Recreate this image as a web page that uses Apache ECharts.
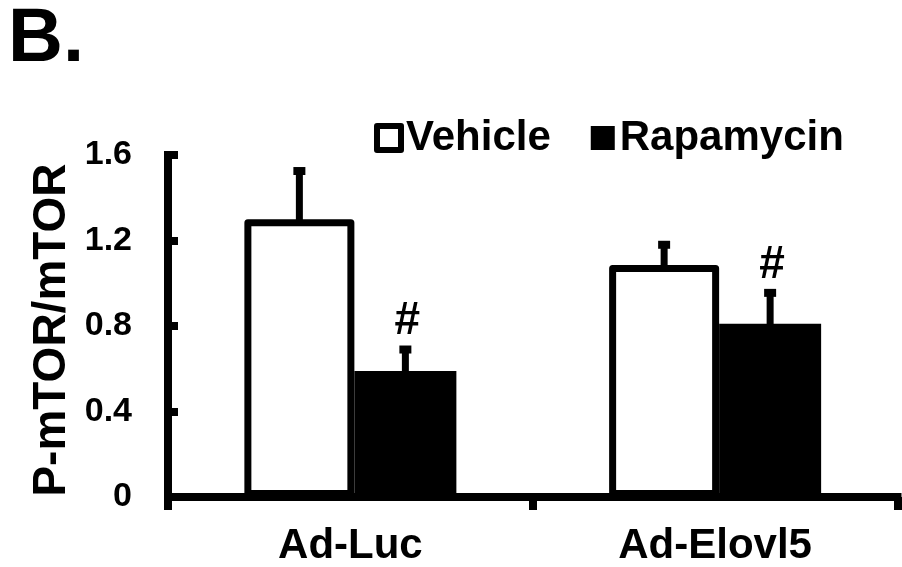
<!DOCTYPE html>
<html>
<head>
<meta charset="utf-8">
<script src="https://cdn.jsdelivr.net/npm/echarts@6/dist/echarts.min.js"></script>
<style>
  html, body { margin: 0; padding: 0; background: #fff; }
  #chart { width: 902px; height: 567px; }
</style>
</head>
<body>
<div id="chart"></div>
<script>
// Phosphorylated / total mTOR ratio, mean with upper error bar
const categories = ['Ad-Luc', 'Ad-Elovl5'];
const seriesNames = ['Vehicle', 'Rapamycin'];
const vehicleMean = [1.30, 1.085];
const vehicleErr = [0.225, 0.095];
const rapamycinMean = [0.59, 0.81];
const rapamycinErr = [0.10, 0.145];
const rapamycinMark = ['#', '#'];
const yMin = 0, yMax = 1.6, yStep = 0.4;

const FONT = 'Liberation Sans, Arial, Helvetica, sans-serif';
const VEH_W = 110;   // outer width of the outlined bar
const RAP_W = 102;
const STROKE = 7;
const GROUP_W = VEH_W + RAP_W;

function errorBars(means, errs, offset, marks) {
  return {
    type: 'custom',
    z: 5,
    silent: true,
    data: means.map((m, i) => [i, m, errs[i]]),
    encode: { x: 0, y: 1 },
    renderItem(params, api) {
      const i = api.value(0), m = api.value(1), e = api.value(2);
      const base = api.coord([i, m]);
      const top = api.coord([i, m + e]);
      const x = base[0] + offset;
      const children = [
        { type: 'line', shape: { x1: x, y1: base[1] + 2, x2: x, y2: top[1] },
          style: { stroke: '#000', lineWidth: STROKE } },
        { type: 'rect', shape: { x: x - 6, y: top[1] - 4, width: 12, height: 8 },
          style: { fill: '#000' } }
      ];
      const mark = marks ? marks[params.dataIndex] : '';
      if (mark) {
        children.push({
          type: 'text',
          style: { text: mark, x: x + 2, y: top[1] - 28, align: 'center', verticalAlign: 'middle',
                   font: 'bold 46px ' + FONT, fill: '#000' }
        });
      }
      return { type: 'group', children };
    }
  };
}

const chart = echarts.init(document.getElementById('chart'), null, { renderer: 'canvas' });
chart.setOption({
  animation: false,
  backgroundColor: '#fff',
  textStyle: { fontFamily: FONT },
  graphic: [{
    type: 'text',
    x: 8, y: 40,
    style: { text: 'B.', x: 0, y: 0, align: 'left', verticalAlign: 'middle', font: 'bold 76px ' + FONT, fill: '#000' }
  }],
  legend: {
    left: 374, top: 117, padding: 0,
    itemWidth: 24, itemHeight: 24,
    itemGap: 40, itemTextGap: 8,
    icon: 'rect',
    textStyle: { fontSize: 42, fontWeight: 'bold', color: '#000', fontFamily: FONT },
    data: [
      { name: seriesNames[0], itemStyle: { color: '#fff', borderColor: '#000', borderWidth: 6, borderJoin: 'round' } },
      { name: seriesNames[1], itemStyle: { color: '#000', borderWidth: 0 } }
    ]
  },
  grid: { left: 168, right: 4.5, top: 155, bottom: 70, containLabel: false },
  xAxis: {
    type: 'category',
    data: categories,
    boundaryGap: true,
    axisLine: { lineStyle: { color: '#000', width: 8, cap: 'square' } },
    axisTick: { show: true, inside: false, length: 13, interval: 0, lineStyle: { color: '#000', width: 8 } },
    axisLabel: { margin: 28, fontSize: 42, fontWeight: 'bold', color: '#000', fontFamily: FONT, interval: 0 },
    splitLine: { show: false }
  },
  yAxis: {
    type: 'value',
    min: yMin, max: yMax, interval: yStep,
    name: 'P-mTOR/mTOR',
    nameLocation: 'middle',
    nameGap: 93,
    nameMoveOverlap: false,
    nameTextStyle: { fontSize: 46, fontWeight: 'bold', color: '#000', fontFamily: FONT, padding: [0, 8, 0, 0] },
    axisLine: { show: true, lineStyle: { color: '#000', width: 8, cap: 'square' } },
    axisTick: { show: true, inside: true, length: 10, lineStyle: { color: '#000', width: 8 } },
    axisLabel: { margin: 36, fontSize: 34, fontWeight: 'bold', color: '#000', fontFamily: FONT },
    splitLine: { show: false }
  },
  series: [
    {
      name: seriesNames[0], type: 'bar', data: vehicleMean,
      barWidth: VEH_W, barGap: '0%',
      itemStyle: { color: '#fff', borderColor: '#000', borderWidth: STROKE, borderJoin: 'round' },
      z: 2
    },
    {
      name: seriesNames[1], type: 'bar', data: rapamycinMean,
      barWidth: RAP_W, barGap: '0%',
      itemStyle: { color: '#000', borderWidth: 0 },
      z: 2
    },
    errorBars(vehicleMean, vehicleErr, -GROUP_W / 2 + VEH_W / 2, null),
    errorBars(rapamycinMean, rapamycinErr, -GROUP_W / 2 + VEH_W + RAP_W / 2, rapamycinMark)
  ]
});
</script>
</body>
</html>
